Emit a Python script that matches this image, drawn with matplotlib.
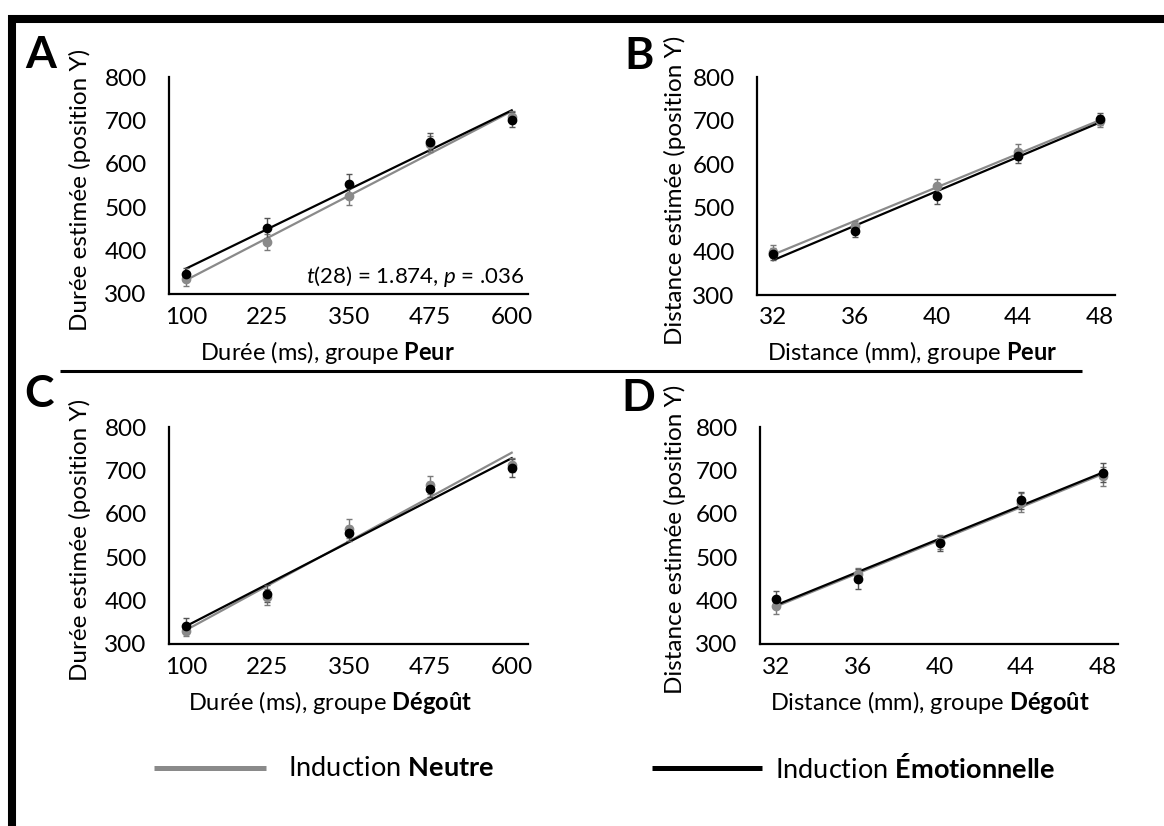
import matplotlib
matplotlib.use('Agg')
import matplotlib.pyplot as plt
import numpy as np
from matplotlib.lines import Line2D

plt.rcParams['font.family'] = ['Lato', 'DejaVu Sans']
plt.rcParams['mathtext.fontset'] = 'custom'
plt.rcParams['mathtext.rm'] = 'Lato'
plt.rcParams['mathtext.it'] = 'Lato:italic'
plt.rcParams['mathtext.bf'] = 'Lato:bold'

# ---------------- data ----------------
duree_x = [100, 225, 350, 475, 600]
dist_x = [32, 36, 40, 44, 48]
y_ticks = [300, 400, 500, 600, 700, 800]

A_neutre = [334, 420, 525, 645, 708]
A_neutre_err = [16, 19, 19, 18, 14]
A_emo = [346, 451, 554, 651, 702]
A_emo_err = [15, 23, 23, 19, 17]

B_neutre = [399, 458, 550, 628, 699]
B_neutre_err = [15, 12, 16, 18, 14]
B_emo = [394, 447, 527, 618, 703]
B_emo_err = [13, 14, 19, 15, 14]

C_neutre = [330, 408, 566, 666, 712]
C_neutre_err = [12, 19, 22, 20, 16]
C_emo = [341, 416, 555, 656, 705]
C_emo_err = [19, 20, 18, 17, 21]

D_neutre = [387, 462, 535, 626, 686]
D_neutre_err = [17, 14, 17, 21, 21]
D_emo = [404, 450, 532, 631, 695]
D_emo_err = [19, 23, 17, 19, 22]

ylabel_duree = "Durée estimée (position Y)"
ylabel_dist = "Distance estimée (position Y)"
xlabels = [r"Durée (ms), groupe $\bf{Peur}$",
           r"Distance (mm), groupe $\bf{Peur}$",
           r"Durée (ms), groupe $\bf{Dégoût}$",
           r"Distance (mm), groupe $\bf{Dégoût}$"]
letters = ["A", "B", "C", "D"]
stat_text = r"$\it{t}$(28) = 1.874, $\it{p}$ = .036"
legend_labels = [r"Induction $\bf{Neutre}$", r"Induction $\bf{Émotionnelle}$"]

GRAY = '#8a8a8a'
BLACK = '#000000'
FS = 17.5

W, H = 1164, 826
fig = plt.figure(figsize=(W / 100, H / 100), dpi=100)


def px_axes(x0, y0, x1, y1):
    return fig.add_axes([x0 / W, 1 - y1 / H, (x1 - x0) / W, (y1 - y0) / H])


def fx(x):
    return x / W


def fy(y):
    return 1 - y / H


panels = [
    dict(box=(169, 77, 528, 294), x=duree_x, n=A_neutre, ne=A_neutre_err, e=A_emo, ee=A_emo_err,
         xlim=(74, 625), ylab=ylabel_duree, ylab_x=80),
    dict(box=(757, 77, 1115, 295), x=dist_x, n=B_neutre, ne=B_neutre_err, e=B_emo, ee=B_emo_err,
         xlim=(31.2, 48.75), ylab=ylabel_dist, ylab_x=675),
    dict(box=(169, 427, 528, 644), x=duree_x, n=C_neutre, ne=C_neutre_err, e=C_emo, ee=C_emo_err,
         xlim=(74, 625), ylab=ylabel_duree, ylab_x=80),
    dict(box=(760, 427, 1118, 644), x=dist_x, n=D_neutre, ne=D_neutre_err, e=D_emo, ee=D_emo_err,
         xlim=(31.2, 48.75), ylab=ylabel_dist, ylab_x=675),
]

for i, p in enumerate(panels):
    ax = px_axes(*p['box'])
    xs = np.array(p['x'], dtype=float)
    series = [(p['n'], p['ne'], GRAY, '#7a7a7a'), (p['e'], p['ee'], BLACK, '#555555')]
    for ys, errs, col, ecol in series:
        ys = np.array(ys, dtype=float)
        coef = np.polyfit(xs, ys, 1)
        xx = np.array([xs[0], xs[-1]])
        ax.plot(xx, np.polyval(coef, xx), color=col, lw=1.6, zorder=2)
    for ys, errs, col, ecol in series:
        ax.errorbar(xs, ys, yerr=errs, fmt='o', color=col, ecolor=ecol, elinewidth=1.0,
                    capsize=2.5, capthick=1.0, markersize=6, zorder=3)
    ax.set_xlim(*p['xlim'])
    ax.set_ylim(300, 800)
    ax.set_xticks(p['x'])
    ax.set_yticks(y_ticks)
    ax.tick_params(length=0, labelsize=FS, colors='#000000')
    ax.tick_params(axis='y', pad=16)
    ax.tick_params(axis='x', pad=9)
    for s in ['top', 'right']:
        ax.spines[s].set_visible(False)
    for s in ['left', 'bottom']:
        ax.spines[s].set_linewidth(1.6)
        ax.spines[s].set_color('#000000')
    ax.patch.set_alpha(0)
    y0, y1 = p['box'][1], p['box'][3]
    fig.text(fx(p['ylab_x']), fy((y0 + y1) / 2 + 4), p['ylab'], rotation=90,
             ha='center', va='center', fontsize=FS)
    if i == 0:
        ax.text(0.99, 0.025, stat_text, transform=ax.transAxes, ha='right', va='bottom', fontsize=16)

# x labels (figure positions)
xlab_pos = [(327, 352), (912, 352), (330, 702), (930, 702)]
for (x, y), lab in zip(xlab_pos, xlabels):
    fig.text(fx(x), fy(y), lab, ha='center', va='center', fontsize=17)

# panel letters
letter_pos = [(41, 55), (639, 56), (39, 394), (638, 398)]
for (x, y), L in zip(letter_pos, letters):
    fig.text(fx(x), fy(y), L, ha='center', va='center', fontsize=32, fontweight='bold')

# frame: top and left thick bars, separator
fig.add_artist(Line2D([fx(8), fx(W)], [fy(19), fy(19)], color='black', lw=5.8, solid_capstyle='butt'))
fig.add_artist(Line2D([fx(12), fx(12)], [fy(15), fy(H)], color='black', lw=5.8, solid_capstyle='butt'))
fig.add_artist(Line2D([fx(60), fx(1082)], [fy(371), fy(371)], color='black', lw=2.2, solid_capstyle='butt'))

# legend
fig.add_artist(Line2D([fx(154), fx(266)], [fy(768), fy(768)], color=GRAY, lw=3.6, solid_capstyle='butt'))
fig.text(fx(288), fy(768), legend_labels[0], ha='left', va='center', fontsize=19.5)
fig.add_artist(Line2D([fx(652), fx(762)], [fy(768), fy(768)], color=BLACK, lw=3.6, solid_capstyle='butt'))
fig.text(fx(775), fy(768), legend_labels[1], ha='left', va='center', fontsize=19.5)

fig.savefig('out.png', dpi=100, facecolor='white')
